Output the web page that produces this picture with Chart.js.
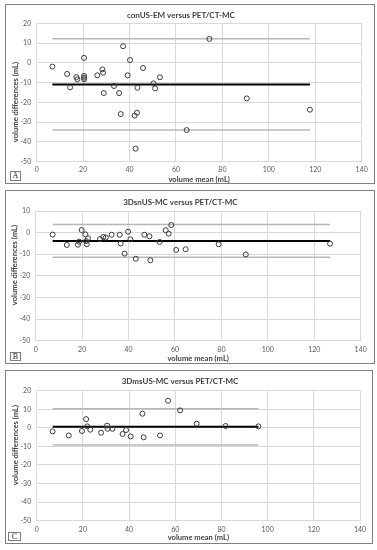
<!DOCTYPE html>
<html lang="en">
<head>
<meta charset="UTF-8">
<title>Bland-Altman: US vs PET/CT-MC</title>
<script src="https://cdn.jsdelivr.net/npm/chart.js@4"></script>
<style>
  * { box-sizing: border-box; margin: 0; padding: 0; }
  body { background: #fff; width: 377px; height: 550px; position: relative; overflow: hidden; }
  .wrap { position: absolute; left: 0; width: 377px; }
  .panel { position: absolute; border: 1px solid #7f7f7f; pointer-events: none; z-index: 2; }
  .tag { position: absolute; border: 1px solid #7f7f7f; background: #fff; z-index: 3;
         font: 8px "Liberation Serif", serif; color: #222; text-align: center; }
</style>
</head>
<body>
  <div class="wrap" style="top:0;height:186px"><canvas id="chartA" width="377" height="186"></canvas></div>
  <div class="wrap" style="top:186px;height:180px"><canvas id="chartB" width="377" height="180"></canvas></div>
  <div class="wrap" style="top:366px;height:184px"><canvas id="chartC" width="377" height="184"></canvas></div>

  <div class="panel" style="left:5px;top:4px;width:370px;height:180px"></div>
  <div class="panel" style="left:5px;top:190px;width:370px;height:174px"></div>
  <div class="panel" style="left:5px;top:370px;width:368px;height:174px"></div>

  <div class="tag" style="left:10px;top:171px;width:11px;height:10px;line-height:8px">A</div>
  <div class="tag" style="left:10px;top:352px;width:11px;height:9px;line-height:7px">B</div>
  <div class="tag" style="left:8px;top:532px;width:13px;height:9px;line-height:7px">C</div>

<script>
// ---------- Data ----------

// A: conUS-EM versus PET/CT-MC
const A_MEAN = [6.75, 13.1, 14.4, 17.1, 17.5, 20.4, 20.4, 20.4, 20.4, 26.1, 28.3, 28.6, 28.9, 33.3, 35.5, 36.2,
                37.2, 39.2, 40.2, 42.2, 43.2, 43.4, 42.6, 45.8, 50.3, 51.0, 53.1, 64.6, 74.4, 90.5, 117.7];
const A_DIFF = [-1.9, -5.6, -12.4, -7.2, -8.3, 2.5, -6.6, -7.5, -8.3, -6.3, -3.3, -5.0, -15.3, -11.7, -15.3, -25.9,
                8.4, -6.3, 1.4, -26.7, -25.2, -12.6, -43.4, -2.6, -10.4, -12.9, -7.3, -34.0, 12.1, -18.0, -23.7];
const A_LIMITS = [-34.0, -10.9, 12.2];   // lower LoA, bias, upper LoA

// B: 3DsnUS-MC versus PET/CT-MC
const B_MEAN = [7.3, 13.4, 18.2, 18.7, 19.8, 21.4, 21.7, 22.0, 22.5, 27.7, 29.1, 30.2, 32.7, 36.2, 36.6, 38.3,
                39.8, 40.8, 43.1, 46.8, 49.0, 49.4, 53.4, 56.0, 57.3, 58.4, 60.5, 64.6, 78.8, 90.5, 126.8];
const B_DIFF = [-0.9, -5.7, -5.6, -4.2, 1.2, -0.8, -3.9, -5.4, -2.6, -3.0, -2.0, -2.3, -1.0, -1.0, -5.0, -9.7,
                0.4, -3.1, -12.1, -1.0, -1.7, -12.8, -4.3, 1.1, -0.5, 3.5, -8.0, -7.7, -5.4, -10.1, -5.1];
const B_LIMITS = [-11.4, -3.9, 3.8];

// C: 3DmsUS-MC versus PET/CT-MC
const C_MEAN = [6.9, 13.9, 19.6, 21.4, 21.9, 23.2, 27.9, 30.5, 30.7, 32.8, 37.2, 38.7, 40.7, 45.8, 46.3, 53.4,
                56.9, 62.1, 69.3, 81.8, 96.0];
const C_DIFF = [-1.9, -4.1, -1.7, 4.7, 0.8, -1.0, -2.6, 1.2, -0.5, -0.5, -3.3, -1.2, -4.6, 7.6, -5.1, -4.1,
                14.6, 9.4, 2.2, 1.0, 0.8];
const C_LIMITS = [-9.3, 0.6, 10.3];

const X_TICKS = [0, 20, 40, 60, 80, 100, 120, 140];

// ---------- Styling ----------

const FONT = 'Lato, "Liberation Sans", Arial, sans-serif';
const GRID = '#d9d9d9';
const TICK_COLOR = '#595959';
const TEXT_COLOR = '#404040';

// rotated y-axis title placed where Excel put it
const yTitlePlugin = {
  id: 'yTitle',
  afterDraw(chart, args, opts) {
    const { ctx } = chart;
    ctx.save();
    ctx.translate(opts.x, opts.y);
    ctx.rotate(-Math.PI / 2);
    ctx.font = `bold 7.6px ${FONT}`;
    ctx.fillStyle = TEXT_COLOR;
    ctx.textAlign = 'center';
    ctx.textBaseline = 'middle';
    ctx.fillText(opts.text, 0, 0);
    ctx.restore();
  }
};

function limitLine(v, xs, color, width) {
  return {
    type: 'line',
    data: [{ x: Math.min(...xs), y: v }, { x: Math.max(...xs), y: v }],
    borderColor: color,
    borderWidth: width,
    pointRadius: 0,
    fill: false,
  };
}

function makeChart(id, title, xs, ys, limits, yMax, lay) {
  const points = xs.map((x, i) => ({ x, y: ys[i] }));
  return new Chart(document.getElementById(id), {
    type: 'scatter',
    data: {
      datasets: [
        {
          data: points,
          pointRadius: 2.5,
          pointBorderWidth: 1,
          pointBorderColor: '#3a3a3a',
          pointBackgroundColor: 'rgba(0,0,0,0)',
        },
        limitLine(limits[1], xs, '#000000', 2),
        limitLine(limits[0], xs, '#b8b8b8', 1.5),
        limitLine(limits[2], xs, '#b8b8b8', 1.5),
      ],
    },
    options: {
      responsive: false,
      animation: false,
      events: [],
      layout: { padding: { left: 0, top: 0, bottom: 0, right: lay.right } },
      plugins: {
        legend: { display: false },
        tooltip: { enabled: false },
        title: {
          display: true,
          text: title,
          color: TEXT_COLOR,
          font: { family: FONT, size: 8, weight: 'bold' },
          padding: { top: lay.titleTop, bottom: lay.titleBottom },
        },
        yTitle: { text: 'volume differences (mL)', x: lay.yTitleX, y: lay.yTitleY },
      },
      scales: {
        x: {
          type: 'linear',
          min: 0, max: 140,
          afterBuildTicks: s => { s.ticks = X_TICKS.map(v => ({ value: v })); },
          afterFit: s => { s.height = lay.xHeight; },
          grid: { color: GRID, drawTicks: false },
          border: { display: false },
          ticks: { color: TICK_COLOR, font: { family: FONT, size: 7 }, padding: lay.xTickPad, maxRotation: 0 },
          title: {
            display: true,
            text: 'volume mean (mL)',
            color: TEXT_COLOR,
            font: { family: FONT, size: 7.6, weight: 'bold' },
            padding: { top: 0, bottom: lay.xTitleBottom },
          },
        },
        y: {
          min: -50, max: yMax,
          afterFit: s => { s.width = lay.left; },
          grid: { color: GRID, drawTicks: false },
          border: { display: false },
          ticks: { stepSize: 10, color: TICK_COLOR, font: { family: FONT, size: 7 }, padding: 5.5 },
        },
      },
    },
    plugins: [yTitlePlugin],
  });
}

makeChart('chartA', 'conUS-EM versus PET/CT-MC', A_MEAN, A_DIFF, A_LIMITS, 20, {
  left: 36.7, right: 15.3, titleTop: 10.2, titleBottom: 3.5,
  xHeight: 24.3, xTickPad: 4.1, xTitleBottom: 1.4, yTitleX: 15.7, yTitleY: 102,
});
makeChart('chartB', '3DsnUS-MC versus PET/CT-MC', B_MEAN, B_DIFF, B_LIMITS, 10, {
  left: 35.7, right: 16.3, titleTop: 11.2, titleBottom: 4.2,
  xHeight: 25.3, xTickPad: 4.4, xTitleBottom: 3.1, yTitleX: 15, yTitleY: 79,
});
makeChart('chartC', '3DmsUS-MC versus PET/CT-MC', C_MEAN, C_DIFF, C_LIMITS, 20, {
  left: 36.7, right: 17, titleTop: 10.2, titleBottom: 4.9,
  xHeight: 29.3, xTickPad: 4.4, xTitleBottom: 7.7, yTitleX: 15.7, yTitleY: 79,
});
</script>
</body>
</html>
